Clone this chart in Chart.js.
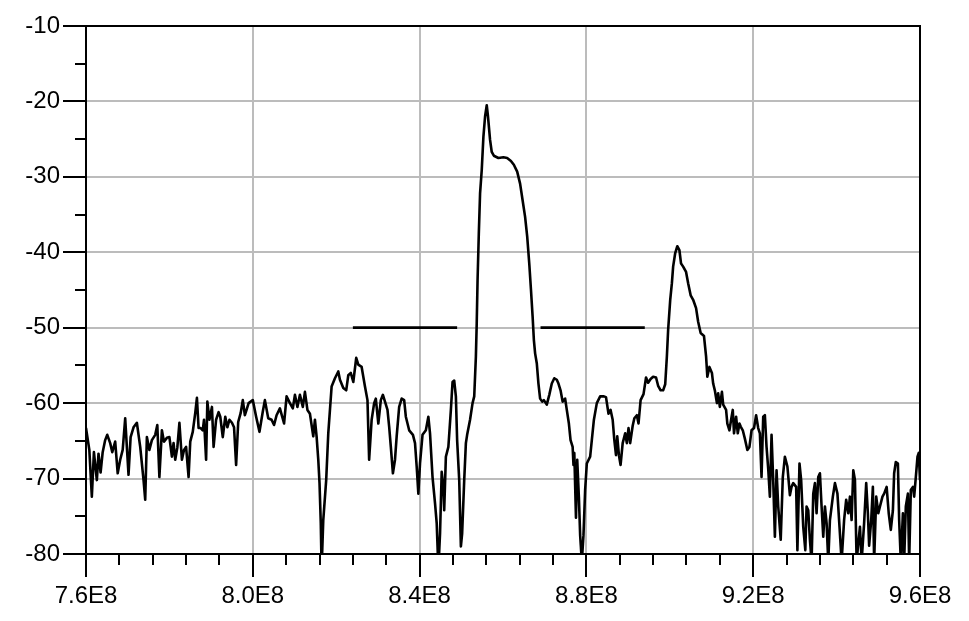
<!DOCTYPE html>
<html>
<head>
<meta charset="utf-8">
<title>Spectrum</title>
<script src="https://cdn.jsdelivr.net/npm/chart.js@4.4.1/dist/chart.umd.min.js"></script>
<style>
  html, body { margin: 0; padding: 0; background: #fff; }
  canvas { display: block; }
</style>
</head>
<body>
<canvas id="spectrumChart" width="969" height="621"></canvas>
<script>
// Trace: frequency in MHz, level in dB
const freqMHz = [
  760.0, 760.8, 761.4, 761.9, 762.6, 763.0, 763.5, 764.0, 764.6, 765.1,
  765.8, 766.3, 767.0, 767.6, 768.2, 768.8, 769.4, 769.8, 770.2, 770.7,
  771.4, 772.2, 773.0, 773.8, 774.2, 774.6, 775.2, 775.8, 776.6, 777.1,
  777.6, 778.2, 778.7, 779.4, 780.0, 780.6, 781.0, 781.4, 781.9, 782.4,
  783.0, 783.5, 784.0, 784.6, 785.0, 785.6, 786.2, 786.6, 787.0, 787.5,
  788.0, 788.3, 788.8, 789.1, 789.6, 790.2, 790.6, 791.2, 791.8, 792.2,
  792.8, 793.4, 793.9, 794.4, 795.0, 795.5, 796.0, 796.5, 797.1, 797.6,
  798.1, 798.5, 799.0, 799.5, 800.0, 800.8, 801.6, 802.4, 802.9, 803.7,
  804.5, 805.1, 805.7, 806.5, 807.5, 808.1, 808.9, 809.6, 810.1, 810.7,
  811.3, 812.0, 812.5, 813.1, 813.7, 814.5, 814.9, 815.3, 815.7, 816.0,
  816.3, 816.5, 816.9, 817.6, 818.1, 818.9, 819.7, 820.5, 820.9, 821.7,
  822.4, 822.9, 823.5, 824.1, 824.8, 825.3, 826.1, 826.9, 827.5, 827.9,
  828.5, 829.1, 829.5, 830.1, 830.7, 831.2, 831.7, 832.3, 832.7, 833.1,
  833.6, 834.1, 834.5, 835.1, 835.7, 836.3, 836.7, 837.5, 838.4, 838.9,
  839.3, 839.7, 840.1, 840.7, 841.5, 842.1, 842.5, 843.1, 843.7, 844.1,
  844.5, 844.9, 845.3, 845.7, 845.9, 846.3, 846.9, 847.5, 847.9, 848.3,
  848.7, 849.0, 849.5, 849.9, 850.2, 850.7, 851.1, 851.4, 852.1, 852.7,
  853.1, 853.5, 853.7, 853.9, 854.2, 854.5, 854.9, 855.3, 855.7, 856.1,
  856.4, 856.9, 857.3, 857.8, 858.9, 860.1, 861.0, 861.9, 862.6, 863.4,
  864.1, 864.7, 865.3, 865.8, 866.3, 866.7, 867.1, 867.4, 867.7, 868.1,
  868.5, 868.9, 869.4, 869.8, 870.5, 871.1, 871.7, 872.3, 872.9, 873.3,
  873.8, 874.3, 874.9, 875.3, 875.8, 876.2, 876.7, 876.9, 877.1, 877.5,
  877.8, 878.2, 878.5, 878.9, 879.3, 879.7, 880.1, 880.9, 881.3, 881.8,
  882.5, 883.3, 884.2, 884.7, 885.3, 885.8, 886.3, 886.7, 887.1, 887.4,
  887.8, 888.2, 888.7, 889.3, 889.7, 890.1, 890.5, 891.1, 891.5, 892.1,
  892.5, 893.0, 893.7, 894.3, 894.8, 895.4, 896.0, 896.7, 897.2, 897.8,
  898.4, 898.9, 899.3, 899.6, 900.1, 900.5, 900.8, 901.3, 901.8, 902.3,
  902.7, 903.2, 903.9, 904.4, 905.0, 905.6, 906.3, 906.8, 907.4, 908.2,
  908.7, 909.0, 909.5, 910.1, 910.4, 910.8, 911.3, 911.6, 912.0, 912.5,
  912.8, 913.5, 913.8, 914.3, 914.7, 915.1, 915.4, 915.9, 916.3, 916.7,
  917.0, 917.5, 918.0, 918.6, 919.1, 919.6, 920.2, 920.7, 921.2, 921.6,
  922.0, 922.4, 922.8, 923.2, 923.6, 924.0, 924.4, 924.8, 925.2, 925.6,
  926.0, 926.6, 927.1, 927.6, 928.2, 928.8, 929.2, 929.6, 930.3, 930.6,
  931.1, 931.5, 932.0, 932.5, 932.8, 933.2, 933.6, 934.0, 934.4, 934.8,
  935.2, 935.6, 936.0, 936.4, 936.8, 937.2, 937.6, 938.0, 938.4, 939.1,
  939.6, 940.2, 940.7, 941.2, 941.8, 942.3, 942.8, 943.2, 943.6, 944.0,
  944.4, 944.8, 945.2, 945.6, 946.0, 946.6, 947.1, 947.5, 947.8, 948.3,
  948.7, 949.0, 949.5, 950.0, 950.4, 951.0, 951.4, 952.0, 952.5, 953.0,
  953.5, 953.8, 954.2, 954.7, 955.0, 955.4, 955.9, 956.2, 956.6, 957.1,
  957.4, 957.8, 958.3, 958.6, 959.0, 959.4, 959.7, 960.0
]
const levelDb = [
  -63.3, -66.2, -72.4, -66.5, -70.2, -66.7, -69.2, -66.5, -64.9, -64.2,
  -65.3, -66.5, -65.1, -69.3, -67.5, -66.2, -62.0, -65.8, -69.5, -64.5,
  -63.2, -62.6, -65.8, -70.2, -72.8, -64.5, -66.2, -64.9, -64.2, -62.9,
  -69.8, -63.6, -65.1, -64.6, -64.5, -67.1, -65.3, -67.5, -65.9, -62.6,
  -67.5, -66.2, -65.8, -69.8, -65.1, -63.8, -61.3, -59.3, -63.3, -63.3,
  -63.6, -62.2, -67.5, -59.8, -62.2, -60.5, -65.8, -62.2, -61.2, -61.8,
  -64.5, -61.8, -63.2, -62.2, -62.6, -63.2, -68.2, -62.5, -61.3, -59.6,
  -61.6, -60.9, -60.0, -59.8, -59.6, -61.8, -63.8, -61.1, -59.6, -62.0,
  -62.2, -62.9, -61.6, -60.7, -62.7, -59.1, -60.0, -60.7, -58.9, -60.5,
  -58.9, -60.5, -58.5, -60.9, -61.4, -64.4, -62.2, -64.4, -67.5, -70.6,
  -75.9, -82.0, -75.5, -70.2, -64.0, -57.8, -56.7, -55.8, -56.9, -58.0,
  -58.3, -56.3, -56.0, -57.2, -54.0, -54.9, -55.2, -57.8, -59.6, -67.5,
  -62.2, -60.0, -59.4, -62.7, -59.6, -58.9, -59.8, -60.9, -63.1, -65.8,
  -69.3, -67.5, -64.4, -60.5, -59.4, -59.6, -61.8, -63.6, -64.2, -65.3,
  -68.4, -72.0, -68.0, -64.2, -63.6, -61.8, -64.0, -69.8, -73.3, -75.9,
  -82.0, -77.3, -69.1, -71.1, -74.2, -67.1, -65.8, -60.9, -57.2, -57.0,
  -59.1, -64.9, -70.2, -79.0, -77.3, -70.2, -65.3, -64.2, -62.2, -60.0,
  -59.1, -53.8, -49.4, -43.7, -37.5, -32.2, -29.1, -24.7, -22.0, -20.5,
  -22.0, -25.1, -26.7, -27.2, -27.5, -27.4, -27.5, -27.9, -28.4, -29.3,
  -30.9, -33.1, -35.3, -37.9, -41.5, -44.9, -48.5, -51.6, -53.4, -54.7,
  -57.4, -59.4, -59.8, -59.6, -60.2, -58.9, -57.4, -56.7, -56.9, -57.4,
  -58.3, -59.8, -59.4, -60.9, -62.7, -64.9, -65.8, -68.2, -66.6, -75.2,
  -67.5, -72.5, -77.5, -81.0, -77.5, -71.5, -68.0, -67.1, -64.9, -62.2,
  -60.0, -59.1, -59.1, -59.2, -61.4, -60.9, -62.2, -64.9, -66.9, -64.4,
  -66.9, -68.2, -65.3, -64.0, -65.3, -63.3, -65.3, -63.0, -62.0, -61.6,
  -62.7, -59.6, -58.8, -56.6, -57.3, -56.8, -56.5, -56.6, -57.7, -58.3,
  -58.3, -57.5, -53.8, -50.3, -46.3, -44.1, -41.9, -40.1, -39.2, -39.7,
  -41.5, -41.9, -42.6, -44.1, -45.7, -46.3, -47.4, -49.2, -50.7, -51.1,
  -53.8, -56.5, -55.2, -56.0, -57.4, -58.3, -60.0, -58.7, -60.5, -58.5,
  -60.2, -60.9, -62.7, -63.6, -62.2, -60.9, -64.0, -61.8, -64.0, -62.7,
  -63.1, -63.6, -64.7, -66.2, -65.8, -63.6, -63.3, -61.6, -63.3, -64.0,
  -69.8, -61.8, -61.6, -65.8, -68.7, -72.4, -64.2, -70.2, -77.7, -68.9,
  -73.7, -78.1, -69.8, -67.1, -68.4, -72.2, -71.1, -70.6, -71.1, -79.5,
  -68.0, -70.2, -76.4, -79.5, -73.7, -74.2, -78.1, -81.0, -72.0, -70.6,
  -74.6, -69.8, -69.3, -73.7, -77.7, -73.7, -75.9, -81.0, -75.5, -72.4,
  -70.6, -72.0, -76.4, -81.0, -75.5, -72.8, -74.6, -72.4, -75.5, -68.9,
  -70.2, -81.0, -78.6, -76.4, -81.0, -75.9, -70.6, -74.6, -78.9, -75.5,
  -71.1, -81.0, -72.4, -74.6, -73.7, -72.4, -72.0, -71.1, -74.6, -76.8,
  -74.2, -69.3, -67.8, -68.0, -75.5, -81.0, -74.6, -81.0, -73.7, -72.0,
  -81.0, -71.5, -71.1, -72.4, -69.8, -67.1, -66.6, -70.2
]

// Limit lines at -50 dB
const maskLeftMHz = [824, 849]
const maskRightMHz = [869, 894]
const maskLevel = -50

// Axes
const xMajorMHz = [760, 800, 840, 880, 920, 960]
const xTickLabels = ['7.6E8', '8.0E8', '8.4E8', '8.8E8', '9.2E8', '9.6E8']
const yMajor = [-80, -70, -60, -50, -40, -30, -20, -10]
const yTickLabels = ['-80', '-70', '-60', '-50', '-40', '-30', '-20', '-10']

const majorIndexX = (v) => xMajorMHz.findIndex((m) => Math.abs(v / 1e6 - m) < 0.01)
const majorIndexY = (v) => yMajor.findIndex((m) => Math.abs(v - m) < 0.01)

const trace = freqMHz.map((f, i) => ({ x: f * 1e6, y: levelDb[i] }))
const maskLeft = maskLeftMHz.map((f) => ({ x: f * 1e6, y: maskLevel }))
const maskRight = maskRightMHz.map((f) => ({ x: f * 1e6, y: maskLevel }))

const labelFont = { family: "'Liberation Sans', Arial, sans-serif", size: 24 }
const gridGrey = '#bcbcbc'

// Scales would otherwise push the plot in to make room for edge labels
const noEdgePadding = (s) => {
  s.paddingTop = 0
  s.paddingBottom = 0
  s.paddingLeft = 0
  s.paddingRight = 0
}

// Frame and tick marks (major long, minor short), drawn over the trace
const axisFrame = {
  id: 'axisFrame',
  afterDatasetsDraw(chart) {
    const { ctx, chartArea: a, scales } = chart
    const x = scales.x
    const y = scales.y
    ctx.save()
    ctx.strokeStyle = '#000'
    ctx.lineWidth = 2
    ctx.beginPath()
    ctx.rect(a.left, a.top, a.right - a.left, a.bottom - a.top)
    x.ticks.forEach((t) => {
      const px = Math.round(x.getPixelForValue(t.value))
      const len = majorIndexX(t.value) >= 0 ? 23 : 11
      ctx.moveTo(px, a.bottom)
      ctx.lineTo(px, a.bottom + len)
    })
    y.ticks.forEach((t) => {
      const py = Math.round(y.getPixelForValue(t.value))
      const len = majorIndexY(t.value) >= 0 ? 23 : 11
      ctx.moveTo(a.left, py)
      ctx.lineTo(a.left - len, py)
    })
    ctx.stroke()
    ctx.restore()
  }
}

const ctx = document.getElementById('spectrumChart').getContext('2d')

new Chart(ctx, {
  type: 'line',
  data: {
    datasets: [
      {
        data: trace,
        borderColor: '#000',
        borderWidth: 2.6,
        borderJoinStyle: 'round',
        pointRadius: 0,
        tension: 0,
        clip: 0
      },
      {
        data: maskLeft,
        borderColor: '#000',
        borderWidth: 2.8,
        pointRadius: 0
      },
      {
        data: maskRight,
        borderColor: '#000',
        borderWidth: 2.8,
        pointRadius: 0
      }
    ]
  },
  options: {
    responsive: false,
    animation: false,
    devicePixelRatio: 1,
    layout: { padding: { top: 26, right: 49, bottom: 0, left: 0 } },
    plugins: {
      legend: { display: false },
      tooltip: { enabled: false }
    },
    scales: {
      x: {
        type: 'linear',
        min: 760e6,
        max: 960e6,
        afterFit: (s) => {
          s.height = 67
          noEdgePadding(s)
        },
        border: { display: false },
        grid: {
          drawTicks: false,
          lineWidth: 2,
          color: (c) => {
            const i = majorIndexX(c.tick.value)
            return i > 0 && i < xMajorMHz.length - 1 ? gridGrey : 'rgba(0,0,0,0)'
          }
        },
        ticks: {
          stepSize: 8e6,
          autoSkip: false,
          maxRotation: 0,
          padding: 28,
          color: '#000',
          font: labelFont,
          callback: (v) => {
            const i = majorIndexX(v)
            return i >= 0 ? xTickLabels[i] : ''
          }
        }
      },
      y: {
        min: -80,
        max: -10,
        afterFit: (s) => {
          s.width = 86
          noEdgePadding(s)
        },
        border: { display: false },
        grid: {
          drawTicks: false,
          lineWidth: 2,
          color: (c) => {
            const i = majorIndexY(c.tick.value)
            return i > 0 && i < yMajor.length - 1 ? gridGrey : 'rgba(0,0,0,0)'
          }
        },
        ticks: {
          stepSize: 5,
          autoSkip: false,
          padding: 26,
          color: '#000',
          font: labelFont,
          callback: (v) => {
            const i = majorIndexY(v)
            return i >= 0 ? yTickLabels[i] : ''
          }
        }
      }
    }
  },
  plugins: [axisFrame]
})
</script>
</body>
</html>
